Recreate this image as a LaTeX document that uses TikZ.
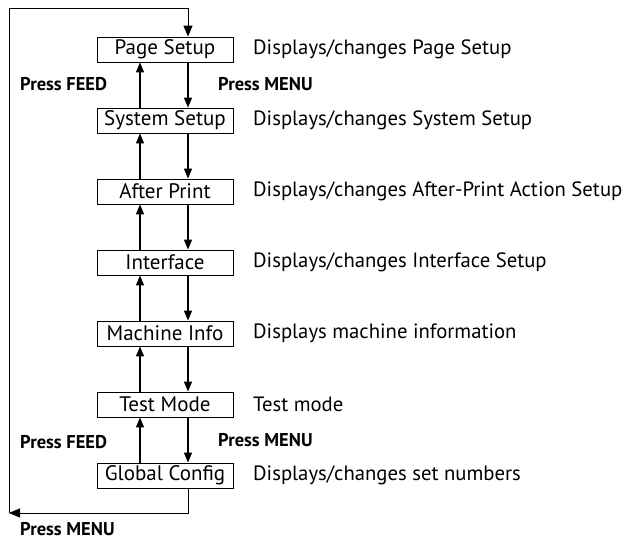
\documentclass[tikz,border=0pt]{standalone}
\usepackage{fontspec}
\setmainfont{PT Sans}
\usetikzlibrary{arrows.meta}
\begin{document}
\begin{tikzpicture}[x=1pt,y=-1pt,
  menubox/.style={draw,line width=0.9pt,minimum width=136pt,minimum height=25pt,inner sep=0pt,font=\fontsize{21}{21}\selectfont},
  desc/.style={anchor=west,inner sep=0pt,font=\fontsize{20.7}{21}\selectfont},
  presslbl/.style={anchor=west,inner sep=0pt,font=\fontsize{18.5}{19}\selectfont\bfseries},
  flow/.style={line width=1.5pt,-{Triangle[length=10pt,width=8pt]}},
  loop/.style={line width=1pt},
  looparrow/.style={line width=1pt,-{Triangle[length=11pt,width=9pt]}}]
\useasboundingbox (0,0) rectangle (629,541);
\coordinate (ux) at (140,0);
\coordinate (dx) at (188,0);
\coordinate (tl) at (9,8);
\coordinate (bl) at (9,513);
\node[menubox] (b0) at (165,49.5) {Page Setup};
\node[menubox] (b1) at (165,120.5) {System Setup};
\node[menubox] (b2) at (165,191.5) {After Print};
\node[menubox] (b3) at (165,262.5) {Interface};
\node[menubox] (b4) at (165,333.5) {Machine Info};
\node[menubox] (b5) at (165,404.5) {Test Mode};
\node[menubox] (b6) at (165,475.5) {Global Config};
\node[desc] (d0) at (253,49.5) {Displays/changes Page Setup};
\node[desc] (d1) at (253,120.5) {Displays/changes System Setup};
\node[desc] (d2) at (253,191.5) {Displays/changes After-Print Action Setup};
\node[desc] (d3) at (253,262.5) {Displays/changes Interface Setup};
\node[desc] (d4) at (253,333.5) {Displays machine information};
\node[desc] (d5) at (253,404.5) {Test mode};
\node[desc] (d6) at (253,475.5) {Displays/changes set numbers};
\foreach \a/\b in {b0/b1,b1/b2,b2/b3,b3/b4,b4/b5,b5/b6}{
  \draw[flow] (\b.north -| ux) -- (\a.south -| ux);
  \draw[flow] (\a.south -| dx) -- (\b.north -| dx);
}
\node[presslbl] (pf1) at (20,84) {Press FEED};
\node[presslbl] (pm1) at (218,84) {Press MENU};
\node[presslbl] (pf2) at (20,442) {Press FEED};
\node[presslbl] (pm2) at (218,440) {Press MENU};
\node[presslbl] (pm3) at (20,529) {Press MENU};
\draw[looparrow] (b6.south -| dx) |- (bl);
\draw[loop] (bl) -- (tl) -- (tl -| dx);
\draw[looparrow] (tl -| dx) -- (b0.north -| dx);
\end{tikzpicture}
\end{document}
